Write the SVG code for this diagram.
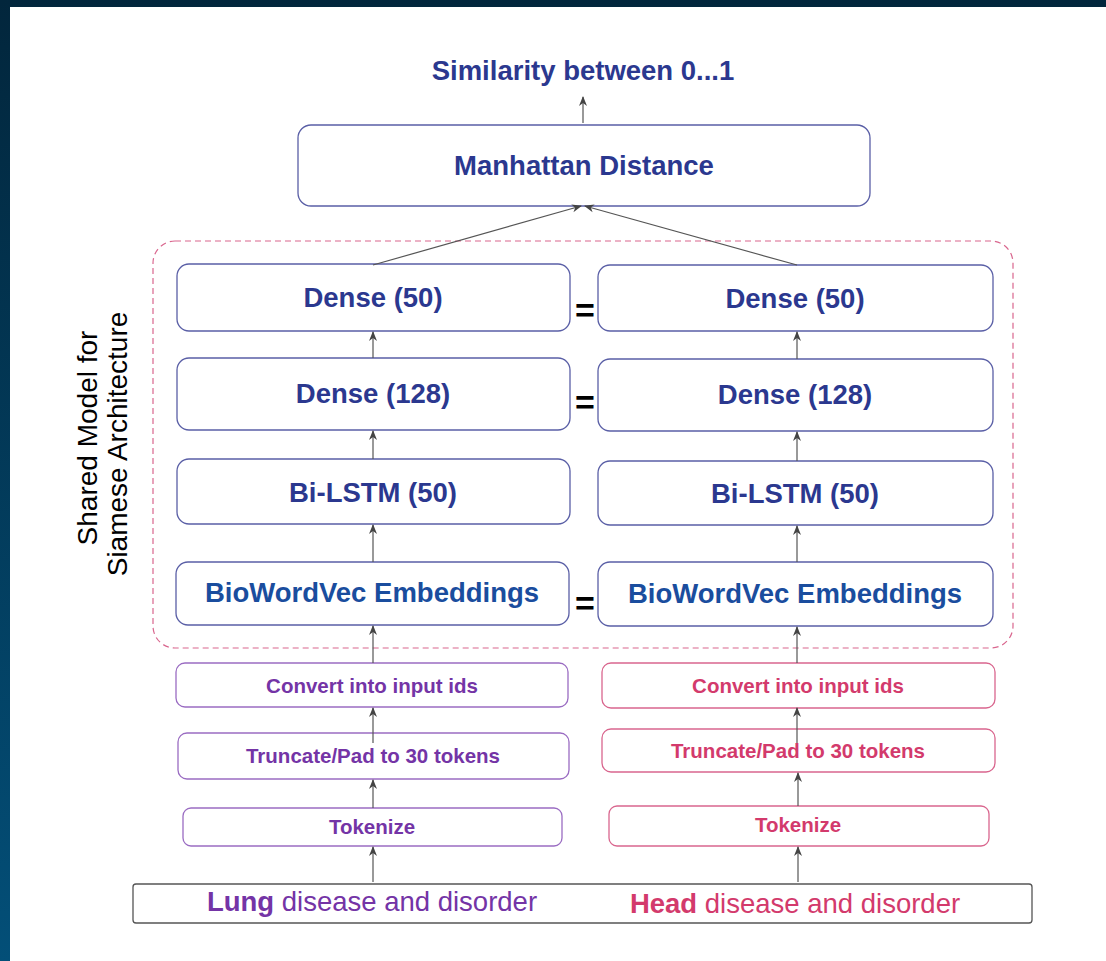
<svg xmlns="http://www.w3.org/2000/svg" width="1106" height="961" viewBox="0 0 1106 961">
<defs>
<linearGradient id="bg" x1="0" y1="0" x2="0" y2="1">
<stop offset="0" stop-color="#02263c"/>
<stop offset="1" stop-color="#034f78"/>
</linearGradient>
<marker id="ah" viewBox="0 0 10 10" refX="9" refY="5" markerWidth="10" markerHeight="10" markerUnits="userSpaceOnUse" orient="auto">
<path d="M0,1 L10,5 L0,9 L3,5 Z" fill="#444"/>
</marker>
<style>
.blk{fill:#fff;stroke:#5a5fa6;stroke-width:1.3}
.pur{fill:#fff;stroke:#9a6cc2;stroke-width:1.3}
.pnk{fill:#fff;stroke:#d9668e;stroke-width:1.3}
.t{font-family:"Liberation Sans",Arial,sans-serif;font-weight:bold;text-anchor:middle}
.big{font-size:27.5px;fill:#2b388f}
.bio{font-size:27.5px;fill:#1a4d9e}
.sm{font-size:20.5px}
.tp{fill:#7434a6}
.tk{fill:#d33a6c}
.eq{font-family:"Liberation Sans",Arial,sans-serif;font-weight:bold;font-size:34px;fill:#000;text-anchor:middle}
.rot{font-family:"Liberation Sans",Arial,sans-serif;font-size:28px;fill:#000;text-anchor:middle}
.c line{stroke:#555;stroke-width:1.2;marker-end:url(#ah)}
</style>
</defs>
<rect x="0" y="0" width="1106" height="961" fill="url(#bg)"/>
<rect x="10" y="7" width="1096" height="954" fill="#fff"/>

<text class="t big" x="583" y="80">Similarity between 0...1</text>

<g id="shared">
<rect x="153" y="241" width="860" height="407" rx="22" fill="none" stroke="#d9668e" stroke-width="1.2" stroke-dasharray="6,4"/>
<text class="rot" transform="translate(97,438) rotate(-90)">Shared Model for</text>
<text class="rot" transform="translate(127,444) rotate(-90)">Siamese Architecture</text>
</g>

<g id="manhattan"><rect class="blk" x="298" y="125" width="572" height="81" rx="13"/><text class="t big" x="584" y="175">Manhattan Distance</text></g>

<g id="dense50L"><rect class="blk" x="177" y="264" width="393" height="67" rx="12"/><text class="t big" x="373" y="307">Dense (50)</text></g>
<g id="dense50R"><rect class="blk" x="598" y="265" width="395" height="66" rx="12"/><text class="t big" x="795" y="308">Dense (50)</text></g>
<g id="dense128L"><rect class="blk" x="177" y="358" width="393" height="72" rx="12"/><text class="t big" x="373" y="403">Dense (128)</text></g>
<g id="dense128R"><rect class="blk" x="598" y="359" width="395" height="72" rx="12"/><text class="t big" x="795" y="404">Dense (128)</text></g>
<g id="lstmL"><rect class="blk" x="177" y="459" width="393" height="65" rx="12"/><text class="t big" x="373" y="502">Bi-LSTM (50)</text></g>
<g id="lstmR"><rect class="blk" x="598" y="461" width="395" height="64" rx="12"/><text class="t big" x="795" y="503">Bi-LSTM (50)</text></g>
<g id="embL"><rect class="blk" x="176" y="562" width="393" height="63" rx="12"/><text class="t bio" x="372" y="602">BioWordVec Embeddings</text></g>
<g id="embR"><rect class="blk" x="598" y="562" width="395" height="64" rx="12"/><text class="t bio" x="795" y="603">BioWordVec Embeddings</text></g>

<g id="equals">
<text class="eq" x="585" y="322">=</text>
<text class="eq" x="585" y="414">=</text>
<text class="eq" x="585" y="615">=</text>
</g>

<g id="convL"><rect class="pur" x="176" y="663" width="392" height="44" rx="9"/><text class="t sm tp" x="372" y="693">Convert into input ids</text></g>
<g id="truncL"><rect class="pur" x="178" y="733" width="391" height="46" rx="9"/><text class="t sm tp" x="373" y="763">Truncate/Pad to 30 tokens</text></g>
<g id="tokL"><rect class="pur" x="183" y="808" width="379" height="38" rx="8"/><text class="t sm tp" x="372" y="834">Tokenize</text></g>
<g id="convR"><rect class="pnk" x="602" y="663" width="393" height="45" rx="9"/><text class="t sm tk" x="798" y="693">Convert into input ids</text></g>
<g id="truncR"><rect class="pnk" x="602" y="729" width="393" height="43" rx="9"/><text class="t sm tk" x="798" y="758">Truncate/Pad to 30 tokens</text></g>
<g id="tokR"><rect class="pnk" x="609" y="806" width="380" height="40" rx="8"/><text class="t sm tk" x="798" y="832">Tokenize</text></g>

<g id="input">
<rect x="133" y="884" width="899" height="39" rx="3" fill="#fff" stroke="#555" stroke-width="1.3"/>
<text font-family="Liberation Sans,Arial,sans-serif" font-size="27.5" x="372" y="911" text-anchor="middle" fill="#7434a6"><tspan font-weight="bold">Lung</tspan> disease and disorder</text>
<text font-family="Liberation Sans,Arial,sans-serif" font-size="27.5" x="795" y="913" text-anchor="middle" fill="#d33a6c"><tspan font-weight="bold">Head</tspan> disease and disorder</text>
</g>

<g id="connectors" class="c">
<line x1="583" y1="123" x2="583" y2="97"/>
<line x1="373" y1="265" x2="581" y2="206"/>
<line x1="797" y1="265" x2="585" y2="206"/>
<line x1="373" y1="358" x2="373" y2="332"/>
<line x1="373" y1="459" x2="373" y2="431"/>
<line x1="373" y1="562" x2="373" y2="525"/>
<line x1="373" y1="663" x2="373" y2="626"/>
<line x1="373" y1="743" x2="373" y2="708"/>
<line x1="373" y1="808" x2="373" y2="780"/>
<line x1="373" y1="882" x2="373" y2="847"/>
<line x1="797" y1="359" x2="797" y2="332"/>
<line x1="797" y1="461" x2="797" y2="432"/>
<line x1="797" y1="562" x2="797" y2="526"/>
<line x1="797" y1="663" x2="797" y2="627"/>
<line x1="797" y1="743" x2="797" y2="708"/>
<line x1="798" y1="806" x2="798" y2="773"/>
<line x1="798" y1="882" x2="798" y2="847"/>
</g>
</svg>
